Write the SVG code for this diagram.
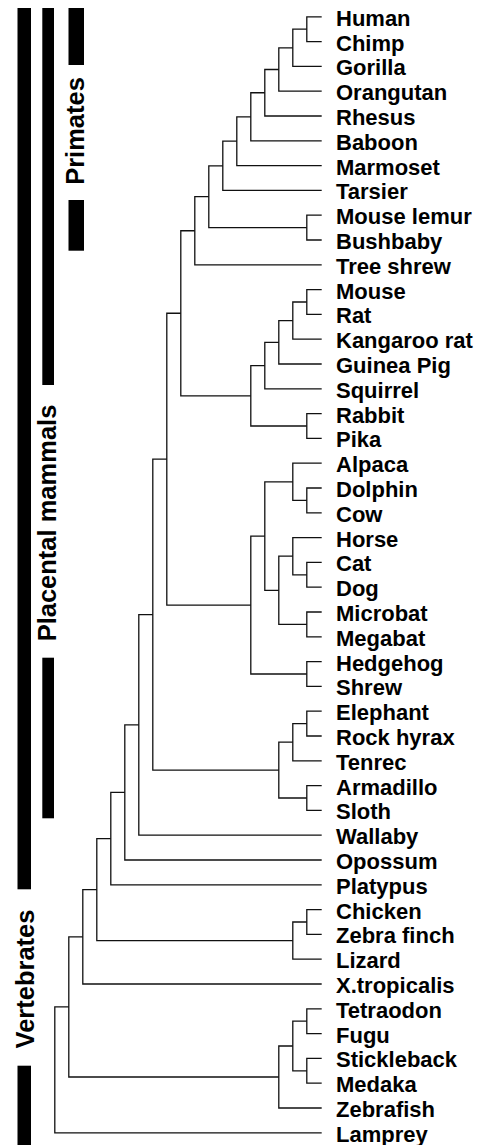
<svg xmlns="http://www.w3.org/2000/svg" width="480" height="1145" viewBox="0 0 480 1145">
<style>
.leaf{font-family:"Liberation Sans",Arial,sans-serif;font-weight:bold;font-size:22px;fill:#000}
.side{font-family:"Liberation Sans",Arial,sans-serif;font-weight:bold;font-size:25.5px;fill:#000;text-anchor:middle}
.bar{fill:#000}
#connectors path{fill:none;stroke:#111;stroke-width:1.3}
</style>
<rect width="480" height="1145" fill="#fff"/>
<g id="group-bars">
<g id="vertebrates">
<rect class="bar" x="17.5" y="8" width="13.5" height="881.3"/>
<rect class="bar" x="17.5" y="1065.7" width="13.5" height="80"/>
<text class="side" transform="translate(33.5,979) rotate(-90)">Vertebrates</text>
</g>
<g id="placental">
<rect class="bar" x="42.3" y="8" width="11.7" height="377"/>
<rect class="bar" x="42.3" y="657.7" width="11.7" height="160.6"/>
<text class="side" transform="translate(55.5,523) rotate(-90)">Placental mammals</text>
</g>
<g id="primates">
<rect class="bar" x="68.5" y="8" width="15.5" height="57"/>
<rect class="bar" x="68.5" y="200" width="15.5" height="50.7"/>
<text class="side" transform="translate(83.5,131) rotate(-90)">Primates</text>
</g>
</g>
<g id="connectors">
<path d="M321.7 16.8 H306.8 V41.6 H321.7"/>
<path d="M306.8 29.2 H292.8 V66.4 H321.7"/>
<path d="M292.8 47.8 H278.8 V91.2 H321.7"/>
<path d="M278.8 69.5 H264.8 V116 H321.7"/>
<path d="M264.8 92.75 H250.8 V140.8 H321.7"/>
<path d="M250.8 116.78 H236.8 V165.6 H321.7"/>
<path d="M236.8 141.19 H222.8 V190.4 H321.7"/>
<path d="M321.7 215.2 H306.8 V240 H321.7"/>
<path d="M222.8 165.8 H208.8 V227.6 H306.8"/>
<path d="M208.8 196.7 H194.8 V264.8 H321.7"/>
<path d="M321.7 289.6 H306.8 V314.4 H321.7"/>
<path d="M306.8 302 H292.8 V339.2 H321.7"/>
<path d="M292.8 320.6 H278.8 V364 H321.7"/>
<path d="M278.8 342.3 H264.8 V388.8 H321.7"/>
<path d="M321.7 413.6 H306.8 V438.4 H321.7"/>
<path d="M264.8 365.55 H250.8 V426 H306.8"/>
<path d="M194.8 230.75 H180.8 V395.78 H250.8"/>
<path d="M321.7 488 H306.8 V512.8 H321.7"/>
<path d="M321.7 463.2 H292.8 V500.4 H306.8"/>
<path d="M321.7 562.4 H306.8 V587.2 H321.7"/>
<path d="M321.7 537.6 H292.8 V574.8 H306.8"/>
<path d="M321.7 612 H306.8 V636.8 H321.7"/>
<path d="M292.8 556.2 H278.8 V624.4 H306.8"/>
<path d="M292.8 481.8 H264.8 V590.3 H278.8"/>
<path d="M321.7 661.6 H306.8 V686.4 H321.7"/>
<path d="M264.8 536.05 H250.8 V674 H306.8"/>
<path d="M180.8 313.26 H166.8 V605.03 H250.8"/>
<path d="M321.7 711.2 H306.8 V736 H321.7"/>
<path d="M306.8 723.6 H292.8 V760.8 H321.7"/>
<path d="M321.7 785.6 H306.8 V810.4 H321.7"/>
<path d="M292.8 742.2 H278.8 V798 H306.8"/>
<path d="M166.8 459.14 H152.8 V770.1 H278.8"/>
<path d="M152.8 614.62 H138.8 V835.2 H321.7"/>
<path d="M138.8 724.91 H124.8 V860 H321.7"/>
<path d="M124.8 792.46 H110.8 V884.8 H321.7"/>
<path d="M321.7 909.6 H306.8 V934.4 H321.7"/>
<path d="M306.8 922 H292.8 V959.2 H321.7"/>
<path d="M110.8 838.63 H96.8 V940.6 H292.8"/>
<path d="M96.8 889.62 H82.8 V984 H321.7"/>
<path d="M321.7 1008.8 H306.8 V1033.6 H321.7"/>
<path d="M321.7 1058.4 H306.8 V1083.2 H321.7"/>
<path d="M306.8 1021.2 H292.8 V1070.8 H306.8"/>
<path d="M292.8 1046 H278.8 V1108 H321.7"/>
<path d="M82.8 936.81 H68.8 V1077 H278.8"/>
<path d="M68.8 1006.9 H54.8 V1132.8 H321.7"/>
</g>
<g id="leaves">
<g id="n-human"><text class="leaf" x="336" y="25.8">Human</text></g>
<g id="n-chimp"><text class="leaf" x="336" y="50.6">Chimp</text></g>
<g id="n-gorilla"><text class="leaf" x="336" y="75.4">Gorilla</text></g>
<g id="n-orangutan"><text class="leaf" x="336" y="100.2">Orangutan</text></g>
<g id="n-rhesus"><text class="leaf" x="336" y="125">Rhesus</text></g>
<g id="n-baboon"><text class="leaf" x="336" y="149.8">Baboon</text></g>
<g id="n-marmoset"><text class="leaf" x="336" y="174.6">Marmoset</text></g>
<g id="n-tarsier"><text class="leaf" x="336" y="199.4">Tarsier</text></g>
<g id="n-mouselemur"><text class="leaf" x="336" y="224.2">Mouse lemur</text></g>
<g id="n-bushbaby"><text class="leaf" x="336" y="249">Bushbaby</text></g>
<g id="n-treeshrew"><text class="leaf" x="336" y="273.8">Tree shrew</text></g>
<g id="n-mouse"><text class="leaf" x="336" y="298.6">Mouse</text></g>
<g id="n-rat"><text class="leaf" x="336" y="323.4">Rat</text></g>
<g id="n-kangaroorat"><text class="leaf" x="336" y="348.2">Kangaroo rat</text></g>
<g id="n-guineapig"><text class="leaf" x="336" y="373">Guinea Pig</text></g>
<g id="n-squirrel"><text class="leaf" x="336" y="397.8">Squirrel</text></g>
<g id="n-rabbit"><text class="leaf" x="336" y="422.6">Rabbit</text></g>
<g id="n-pika"><text class="leaf" x="336" y="447.4">Pika</text></g>
<g id="n-alpaca"><text class="leaf" x="336" y="472.2">Alpaca</text></g>
<g id="n-dolphin"><text class="leaf" x="336" y="497">Dolphin</text></g>
<g id="n-cow"><text class="leaf" x="336" y="521.8">Cow</text></g>
<g id="n-horse"><text class="leaf" x="336" y="546.6">Horse</text></g>
<g id="n-cat"><text class="leaf" x="336" y="571.4">Cat</text></g>
<g id="n-dog"><text class="leaf" x="336" y="596.2">Dog</text></g>
<g id="n-microbat"><text class="leaf" x="336" y="621">Microbat</text></g>
<g id="n-megabat"><text class="leaf" x="336" y="645.8">Megabat</text></g>
<g id="n-hedgehog"><text class="leaf" x="336" y="670.6">Hedgehog</text></g>
<g id="n-shrew"><text class="leaf" x="336" y="695.4">Shrew</text></g>
<g id="n-elephant"><text class="leaf" x="336" y="720.2">Elephant</text></g>
<g id="n-rockhyrax"><text class="leaf" x="336" y="745">Rock hyrax</text></g>
<g id="n-tenrec"><text class="leaf" x="336" y="769.8">Tenrec</text></g>
<g id="n-armadillo"><text class="leaf" x="336" y="794.6">Armadillo</text></g>
<g id="n-sloth"><text class="leaf" x="336" y="819.4">Sloth</text></g>
<g id="n-wallaby"><text class="leaf" x="336" y="844.2">Wallaby</text></g>
<g id="n-opossum"><text class="leaf" x="336" y="869">Opossum</text></g>
<g id="n-platypus"><text class="leaf" x="336" y="893.8">Platypus</text></g>
<g id="n-chicken"><text class="leaf" x="336" y="918.6">Chicken</text></g>
<g id="n-zebrafinch"><text class="leaf" x="336" y="943.4">Zebra finch</text></g>
<g id="n-lizard"><text class="leaf" x="336" y="968.2">Lizard</text></g>
<g id="n-xtropicalis"><text class="leaf" x="336" y="993">X.tropicalis</text></g>
<g id="n-tetraodon"><text class="leaf" x="336" y="1017.8">Tetraodon</text></g>
<g id="n-fugu"><text class="leaf" x="336" y="1042.6">Fugu</text></g>
<g id="n-stickleback"><text class="leaf" x="336" y="1067.4">Stickleback</text></g>
<g id="n-medaka"><text class="leaf" x="336" y="1092.2">Medaka</text></g>
<g id="n-zebrafish"><text class="leaf" x="336" y="1117">Zebrafish</text></g>
<g id="n-lamprey"><text class="leaf" x="336" y="1141.8">Lamprey</text></g>
</g>
</svg>
